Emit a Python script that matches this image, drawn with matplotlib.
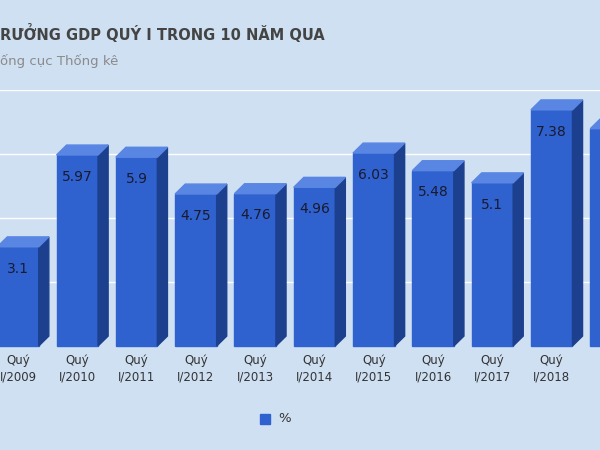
import matplotlib
matplotlib.use("Agg")
import matplotlib.pyplot as plt
from matplotlib.patches import Polygon, Rectangle

years = ["Quý\nI/2009", "Quý\nI/2010", "Quý\nI/2011", "Quý\nI/2012", "Quý\nI/2013",
         "Quý\nI/2014", "Quý\nI/2015", "Quý\nI/2016", "Quý\nI/2017", "Quý\nI/2018"]
values = [3.1, 5.97, 5.9, 4.75, 4.76, 4.96, 6.03, 5.48, 5.1, 7.38]
value_labels = ["3.1", "5.97", "5.9", "4.75", "4.76", "4.96", "6.03", "5.48", "5.1", "7.38"]
extra_value = 6.79  # partially visible bar at right edge

bg = "#cfe0f2"
front = "#2f62cf"
side = "#1c3f8e"
top = "#5a86e3"

fig = plt.figure(figsize=(6, 4.5), dpi=100, facecolor=bg)
ax = fig.add_axes([0, (450 - 346) / 450, 1, 256 / 450], facecolor=bg)
ax.set_xlim(-18 / 59.3, (600 - 18) / 59.3)
ax.set_ylim(0, 8)
for s in ax.spines.values():
    s.set_visible(False)
ax.set_xticks([]); ax.set_yticks([])
for g in [2, 4, 6, 8]:
    ax.axhline(g, color="white", lw=1, zorder=0)

w = 0.7
dx, dy = 0.17, 0.31
allv = values + [extra_value]
for i, v in enumerate(allv):
    x0 = i - w / 2
    ax.add_patch(Rectangle((x0, 0), w, v, color=front, zorder=2, clip_on=False))
    ax.add_patch(Polygon([(x0 + w, 0), (x0 + w + dx, dy), (x0 + w + dx, v + dy), (x0 + w, v)],
                         color=side, zorder=2, clip_on=False))
    ax.add_patch(Polygon([(x0, v), (x0 + dx, v + dy), (x0 + w + dx, v + dy), (x0 + w, v)],
                         color=top, zorder=2, clip_on=False))
    if i < len(values):
        ax.text(i, v - 0.68, value_labels[i], ha="center", va="center", fontsize=10,
                color="#1a1a2e", zorder=3)
        ax.text(i, -0.25, years[i], ha="center", va="top", fontsize=8.5,
                color="#333333", linespacing=1.3)

fig.text(0.0, (450 - 33) / 450, "RƯỞNG GDP QUÝ I TRONG 10 NĂM QUA", fontsize=10.5,
         fontweight="bold", color="#444444", va="center", ha="left")
fig.text(0.0, (450 - 61) / 450, "ống cục Thống kê", fontsize=9.5, color="#8a8a8a",
         va="center", ha="left")
fig.patches.append(Rectangle((260 / 600, (450 - 424) / 450), 10 / 600, 10 / 450,
                             transform=fig.transFigure, color=front))
fig.text(278 / 600, (450 - 419) / 450, "%", fontsize=9.5, color="#333333", va="center")

fig.savefig("out.png", dpi=100, facecolor=bg)
